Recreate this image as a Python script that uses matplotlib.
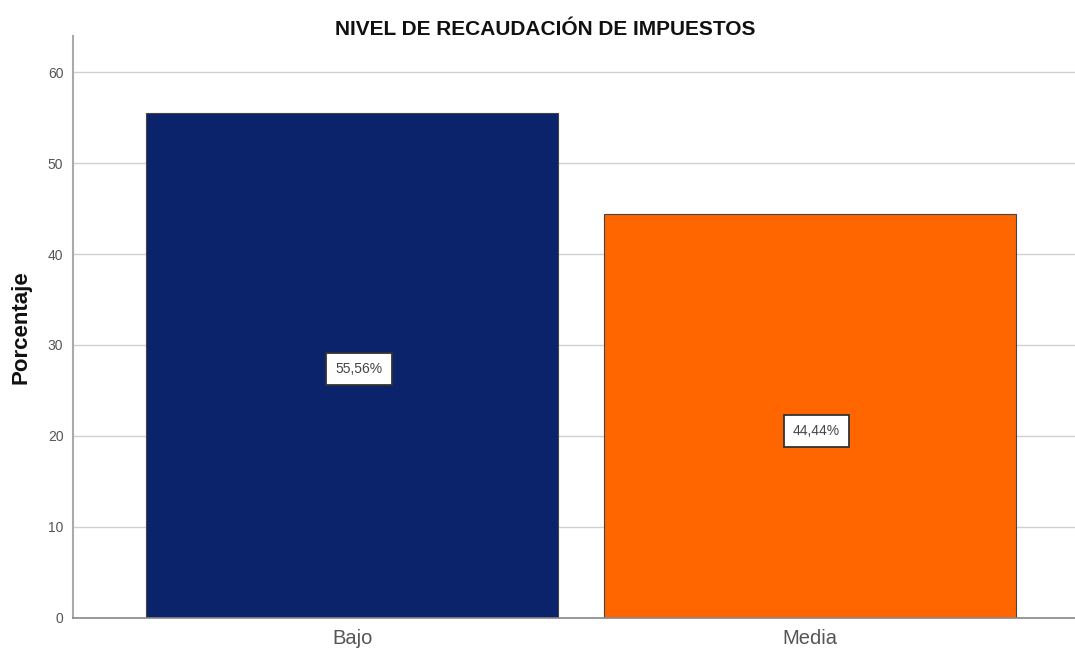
import matplotlib
matplotlib.use("Agg")
import matplotlib.pyplot as plt

plt.rcParams["font.family"] = ["Liberation Sans", "DejaVu Sans"]

categories = ["Bajo", "Media"]
values = [55.56, 44.44]
labels = ["55,56%", "44,44%"]
colors = ["#0a236b", "#ff6600"]
yticks = [0, 10, 20, 30, 40, 50, 60]

fig = plt.figure(figsize=(10.75, 6.51), dpi=100)
ax = fig.add_axes([0.068, 0.051, 0.932, 0.894])

x = list(range(len(categories)))
ax.bar(x, values, width=0.9, color=colors, edgecolor="#444444", linewidth=0.8, zorder=2)

label_frac = [0.493, 0.462]
for xi, v, lab, f in zip(x, values, labels, label_frac):
    ax.text(xi + 0.015, v * f, lab, ha="center", va="center", fontsize=10, color="#444444",
            bbox=dict(boxstyle="square,pad=0.65", fc="white", ec="#333333", lw=1.3), zorder=3)

ax.set_xlim(-0.61, 1.58)
ax.set_ylim(0, 64)
ax.set_yticks(yticks)
ax.set_yticklabels([str(t) for t in yticks], fontsize=10, color="#555555")
ax.set_xticks(x)
ax.set_xticklabels(categories, fontsize=14.5, color="#555555")
ax.tick_params(axis="both", length=0)
ax.tick_params(axis="y", pad=7)
ax.tick_params(axis="x", pad=8)

ax.yaxis.grid(True, color="#d0d0d0", linewidth=1, zorder=0)
ax.set_axisbelow(True)
for s in ["top", "right"]:
    ax.spines[s].set_visible(False)
ax.spines["left"].set_color("#aaaaaa")
ax.spines["left"].set_linewidth(1.5)
ax.spines["bottom"].set_color("#888888")
ax.spines["bottom"].set_linewidth(1.2)

ax.set_ylabel("Porcentaje", fontsize=16, fontweight="bold", labelpad=12, color="#111111")
fig.suptitle("NIVEL DE RECAUDACIÓN DE IMPUESTOS", fontsize=15, fontweight="bold",
             x=0.507, y=0.97, color="#111111")

fig.savefig("out.png", dpi=100, facecolor="white")
